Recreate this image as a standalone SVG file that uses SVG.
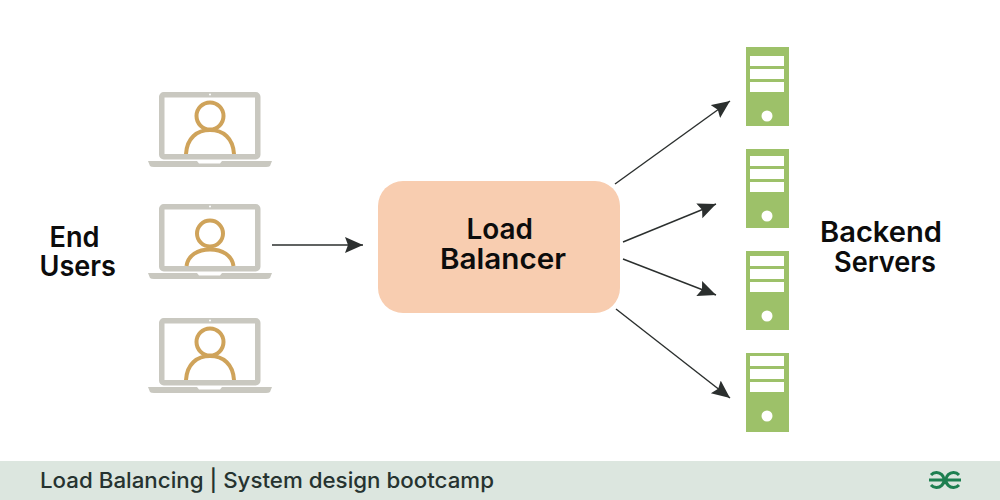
<svg xmlns="http://www.w3.org/2000/svg" width="1000" height="500" viewBox="0 0 1000 500">
<style>
.t{font-family:"Inter","Liberation Sans",sans-serif;font-weight:600;font-size:28px;fill:#0c0c0c}
.f{font-family:"Inter","Liberation Sans",sans-serif;font-weight:500;font-size:21.500px;fill:#263330}
.c{stroke:#2b2f2e;stroke-width:1.4;fill:none;marker-end:url(#a)}
.srv{fill:#9DC169}.bar{fill:#fff}
.lap{fill:none;stroke:#C9C8C0;stroke-width:5.500}
.base{fill:#C9C8C0}
.p{fill:none;stroke:#CFA35A;stroke-width:4}
</style>
<defs>
<marker id="a" markerUnits="userSpaceOnUse" markerWidth="20" markerHeight="18" refX="18" refY="8" orient="auto"><path d="M0 0L18 8L0 16L3 8Z" fill="#2b2f2e"/></marker>
<g id="laptop">
<rect class="lap" x="161.750" y="94.750" width="96" height="62" rx="2"/>
<circle cx="210" cy="94.500" r="1" fill="#fff"/>
<path class="base" d="M148 161H197L199 163.500H220L222 161H272L270 166Q269 167 266 167H154Q151 167 150 166Z"/>
</g>
<rect id="srv" class="srv" x="746" y="47" width="43" height="79"/>
</defs>
<rect width="1000" height="500" fill="#fff"/>
<g id="connectors">
<line class="c" x1="272" y1="245" x2="363" y2="245"/>
<line class="c" x1="615" y1="184" x2="730" y2="101"/>
<line class="c" x1="623" y1="242" x2="716" y2="204"/>
<line class="c" x1="623" y1="259" x2="716" y2="295"/>
<line class="c" x1="616" y1="309" x2="730" y2="398"/>
</g>
<g id="end-users"><text class="t" x="49.500" y="246.500" textLength="50" lengthAdjust="spacingAndGlyphs">End</text><text class="t" x="39.500" y="276" textLength="76.500" lengthAdjust="spacingAndGlyphs">Users</text></g>
<g id="user-1"><use href="#laptop"/><circle class="p" cx="210" cy="116" r="13.500"/><path class="p" d="M186 154C187 138 197 130 210 130C223 130 233 138 234 154"/></g>
<g id="user-2"><use href="#laptop" y="112"/><circle class="p" cx="210" cy="233.500" r="13"/><path class="p" d="M186.500 266C188 255 198 249.500 210 249.500C222 249.500 232 255 233.500 266"/></g>
<g id="user-3"><use href="#laptop" y="226"/><circle class="p" cx="210" cy="342" r="13.500"/><path class="p" d="M186 380C187 364 197 356 210 356C223 356 233 364 234 380"/></g>
<g id="load-balancer"><rect x="378" y="181" width="242" height="132" rx="25" fill="#F8CDB0"/><text class="t" x="466.500" y="239" textLength="66.500" lengthAdjust="spacingAndGlyphs">Load</text><text class="t" x="440" y="269" textLength="126" lengthAdjust="spacingAndGlyphs">Balancer</text></g>
<g id="server-1"><use href="#srv"/><rect class="bar" x="750" y="56" width="34" height="10"/><rect class="bar" x="750" y="69" width="34" height="10"/><rect class="bar" x="750" y="82" width="34" height="10"/><circle class="bar" cx="767" cy="116" r="5.500"/></g>
<g id="server-2"><use href="#srv" y="102"/><rect class="bar" x="750" y="156" width="34" height="10"/><rect class="bar" x="750" y="169" width="34" height="10"/><rect class="bar" x="750" y="182" width="34" height="10"/><circle class="bar" cx="767" cy="216" r="5.500"/></g>
<g id="server-3"><use href="#srv" y="204"/><rect class="bar" x="750" y="256" width="34" height="10"/><rect class="bar" x="750" y="269" width="34" height="10"/><rect class="bar" x="750" y="282" width="34" height="10"/><circle class="bar" cx="767" cy="316" r="5.500"/></g>
<g id="server-4"><use href="#srv" y="306"/><rect class="bar" x="750" y="356" width="34" height="10"/><rect class="bar" x="750" y="369" width="34" height="10"/><rect class="bar" x="750" y="382" width="34" height="10"/><circle class="bar" cx="767" cy="416" r="5.500"/></g>
<g id="backend-servers"><text class="t" x="820" y="242" textLength="122" lengthAdjust="spacingAndGlyphs">Backend</text><text class="t" x="834" y="271.500" textLength="102" lengthAdjust="spacingAndGlyphs">Servers</text></g>
<g id="footer"><rect y="461" width="1000" height="39" fill="#DCE6DF"/><text class="f" x="40" y="487.500" textLength="454" lengthAdjust="spacingAndGlyphs">Load Balancing | System design bootcamp</text>
<path fill="none" stroke="#1D7F50" stroke-width="3" d="M929 480H961M931 475A7.500 7.500 0 1 1 931 485M959 475A7.500 7.500 0 1 0 959 485"/></g>
</svg>
